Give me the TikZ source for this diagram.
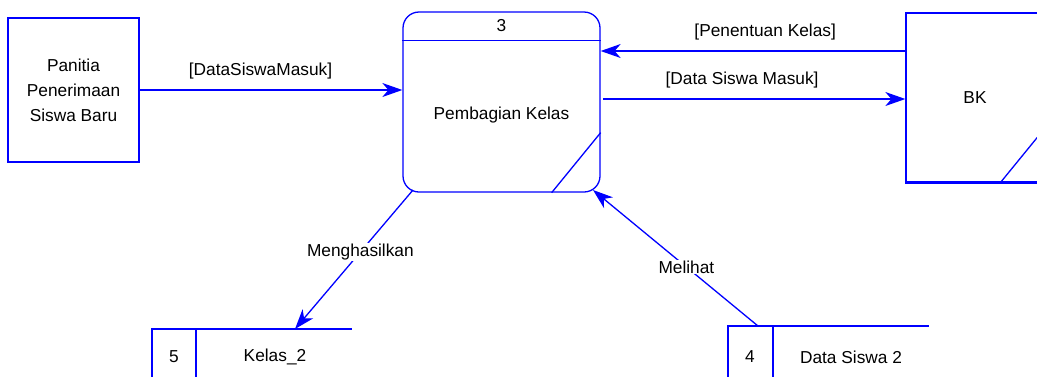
\documentclass[tikz,border=0pt]{standalone}
\usepackage{fontspec}
\setmainfont{Liberation Sans}
\usetikzlibrary{arrows.meta}
\definecolor{dfdblue}{RGB}{0,0,255}

\begin{document}
\begin{tikzpicture}[x=1pt,y=-1pt,line width=1.3pt,
  every node/.style={font=\fontsize{17.3}{25}\selectfont},
  entity/.style={draw=dfdblue,minimum width=131pt,minimum height=144pt,align=center,inner sep=0pt},
  process/.style={draw=dfdblue,rounded corners=16pt,minimum width=197pt,minimum height=180pt},
  flow/.style={draw=dfdblue,-{Stealth[length=20pt,width=14pt,inset=6pt]}},
  toplbl/.style={above=9pt,inner sep=1pt},
  midlbl/.style={fill=white,inner sep=1pt}]
\clip (0,0) rectangle (1037,376);

% External entity Panitia
\node[entity] (pan) at (73.5,90) {Panitia\\Penerimaan\\Siswa Baru};

% Process 3 with divider and corner mark
\node[process] (proc) at (501.5,102) {};
\node (procid) at ([yshift=-14pt]proc.north) {3};
\node (procname) at ([yshift=-13pt]proc.center) {Pembagian Kelas};
\draw[dfdblue] ([yshift=-29pt]proc.north west) -- ([yshift=-29pt]proc.north east);
\draw[dfdblue] ([xshift=-49pt]proc.south east) -- ([yshift=60pt]proc.south east);

% External entity BK, cut by the right edge
\node[draw=dfdblue,minimum width=138pt,minimum height=169pt] (bk) at (975,97.5) {BK};
\draw[dfdblue,line width=3pt] (bk.south west) -- (bk.south east);
\draw[dfdblue] ([xshift=95pt]bk.south west) -- ++(49,-60);

% Data store 5
\coordinate (s5) at (152,329);
\draw[dfdblue] (152,390) -- (s5) -- (352,329);
\draw[dfdblue] (196,329) -- (196,390);
\node (s5id) at (174,357) {5};
\node (s5name) at (275,357) {Kelas\_2};

% Data store 4
\coordinate (s4) at (728,326);
\draw[dfdblue] (728,390) -- (s4) -- (929,326);
\draw[dfdblue] (773,326) -- (773,390);
\node (s4id) at (750,357) {4};
\node (s4name) at (851,357) {Data Siswa 2};

% Flows between entities and process
\draw[flow] (pan.east) -- (pan.east -| proc.west)
  node[toplbl,pos=0.46] {[DataSiswaMasuk]};
\draw[flow] ([yshift=46.5pt]bk.west) -- ([yshift=46.5pt]bk.west -| proc.east)
  node[toplbl,pos=0.46] {[Penentuan Kelas]};
\coordinate (procout) at (603,99);
\draw[flow] (procout) -- (procout -| bk.west)
  node[toplbl,pos=0.46] {[Data Siswa Masuk]};

% Flows with the data stores
\coordinate (procsw) at (413,190);
\coordinate (s5in) at (295,329);
\draw[flow] (procsw) -- (s5in) node[midlbl,pos=0.446] {Menghasilkan};
\coordinate (procse) at (593,190);
\coordinate (s4out) at (758,326);
\draw[flow] (s4out) -- (procse) node[midlbl,pos=0.434] {Melihat};

\end{tikzpicture}
\end{document}
